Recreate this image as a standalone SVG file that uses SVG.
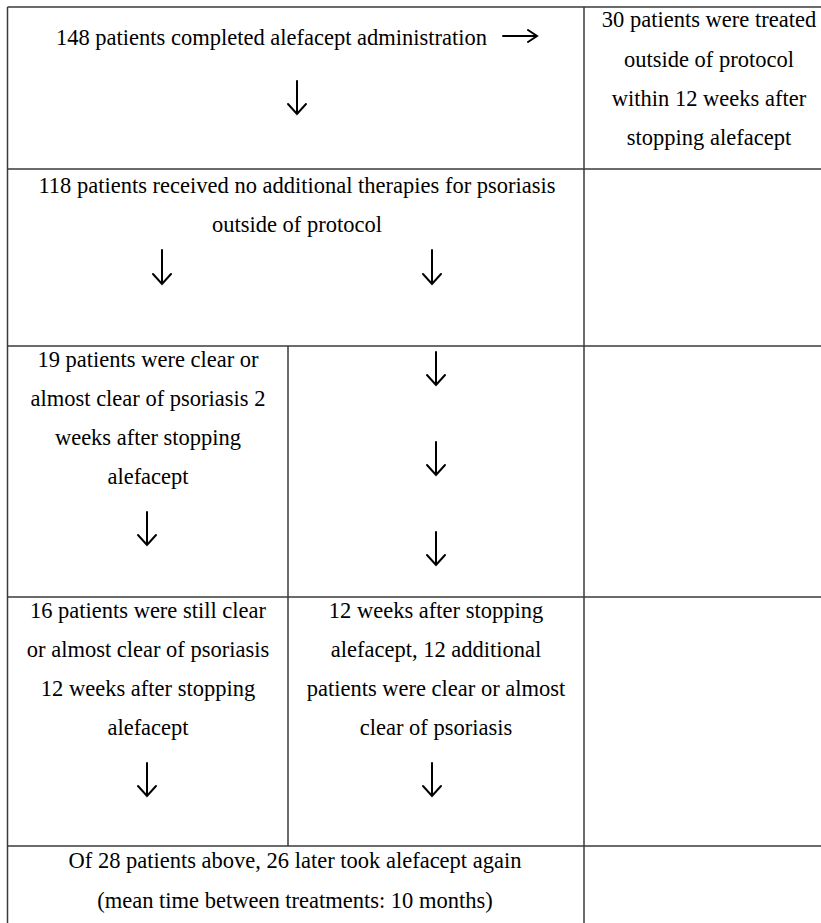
<svg xmlns="http://www.w3.org/2000/svg" width="821" height="923" viewBox="0 0 821 923">
<style>
.t{font-size:22.5px;fill:#000;text-anchor:middle}
.g{stroke:#3a3a3a;stroke-width:1.5;fill:none}
.a{stroke:#000;stroke-width:2;fill:none;stroke-linecap:round;stroke-linejoin:miter}
</style>
<rect width="821" height="923" fill="#fff"/>
<g id="grid">
<line class="g" x1="7.5" y1="7" x2="821" y2="7"/>
<line class="g" x1="7.5" y1="169" x2="821" y2="169"/>
<line class="g" x1="7.5" y1="346" x2="821" y2="346"/>
<line class="g" x1="7.5" y1="597" x2="821" y2="597"/>
<line class="g" x1="7.5" y1="846" x2="821" y2="846"/>
<line class="g" x1="7.5" y1="7" x2="7.5" y2="923"/>
<line class="g" x1="584" y1="7" x2="584" y2="923"/>
<line class="g" x1="288" y1="346" x2="288" y2="846"/>
</g>
<g font-family="Liberation Serif, Times New Roman, Times, DejaVu Serif, serif">
<g id="n1">
<text class="t" x="271.5" y="45">148 patients completed alefacept administration</text>
</g>
<g id="n2">
<text class="t" x="709" y="27">30 patients were treated</text>
<text class="t" x="709" y="67">outside of protocol</text>
<text class="t" x="709" y="106">within 12 weeks after</text>
<text class="t" x="709" y="145">stopping alefacept</text>
</g>
<g id="n3">
<text class="t" x="297" y="193">118 patients received no additional therapies for psoriasis</text>
<text class="t" x="297" y="232">outside of protocol</text>
</g>
<g id="n4">
<text class="t" x="148" y="367">19 patients were clear or</text>
<text class="t" x="148" y="406">almost clear of psoriasis 2</text>
<text class="t" x="148" y="445">weeks after stopping</text>
<text class="t" x="148" y="484">alefacept</text>
</g>
<g id="n5">
<text class="t" x="148" y="618">16 patients were still clear</text>
<text class="t" x="148" y="657">or almost clear of psoriasis</text>
<text class="t" x="148" y="696">12 weeks after stopping</text>
<text class="t" x="148" y="735">alefacept</text>
</g>
<g id="n6">
<text class="t" x="436" y="618">12 weeks after stopping</text>
<text class="t" x="436" y="657">alefacept, 12 additional</text>
<text class="t" x="436" y="696">patients were clear or almost</text>
<text class="t" x="436" y="735">clear of psoriasis</text>
</g>
<g id="n7">
<text class="t" x="295" y="868">Of 28 patients above, 26 later took alefacept again</text>
<text class="t" x="295" y="908">(mean time between treatments: 10 months)</text>
</g>
</g>
<g id="connectors">
<path class="a" d="M503 36H537M528 30L537 36L528 42"/>
<path class="a" d="M297 81V114M288 104L297 114L306 104"/>
<path class="a" d="M162 250V284M153 274L162 284L171 274"/>
<path class="a" d="M432 250V284M423 274L432 284L441 274"/>
<path class="a" d="M436 352V385M427 375L436 385L445 375"/>
<path class="a" d="M436 442V475M427 465L436 475L445 465"/>
<path class="a" d="M436 532V565M427 555L436 565L445 555"/>
<path class="a" d="M147 512V545M138 535L147 545L156 535"/>
<path class="a" d="M147 763V796M138 786L147 796L156 786"/>
<path class="a" d="M432 763V796M423 786L432 796L441 786"/>
</g>
</svg>
